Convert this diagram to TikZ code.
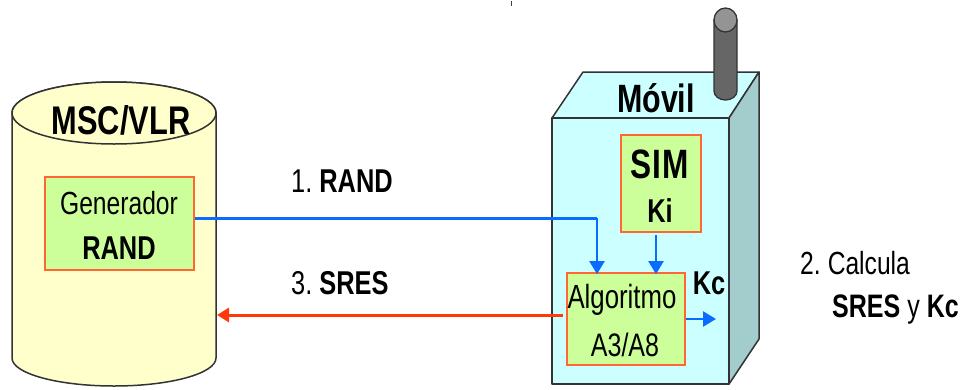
\documentclass[tikz,border=0pt]{standalone}
\usepackage{fontspec}
\setmainfont[FakeStretch=0.77]{Liberation Sans}
\definecolor{cylfill}{HTML}{FFFFCC}
\definecolor{boxgreen}{HTML}{CCFF99}
\definecolor{mobfront}{HTML}{CCFFFF}
\definecolor{mobside}{HTML}{A3CCCC}
\definecolor{edgeorange}{HTML}{FF6633}
\definecolor{linkblue}{HTML}{0A6CFF}
\definecolor{linkred}{HTML}{FF3A0A}
\definecolor{outline}{HTML}{333333}
\usetikzlibrary{arrows.meta}
\tikzset{
  solidpart/.style={draw=outline,line width=1.5pt,line join=round},
  panel/.style={draw=edgeorange,fill=boxgreen,line width=1.8pt,inner sep=0pt,align=center},
  bluelink/.style={draw=linkblue,line width=2.4pt,-{Triangle[width=15pt,length=13pt]}},
  bluemain/.style={draw=linkblue,line width=3pt},
  redlink/.style={draw=linkred,line width=3pt,-{Triangle[width=14pt,length=12pt]}},
  txt/.style={inner sep=0pt,align=center,text=black},
  lefttxt/.style={inner sep=0pt,anchor=west,text=black}
}
\newcommand{\fsz}[1]{\fontsize{#1}{#1}\selectfont}
\begin{document}
\begin{tikzpicture}[x=1pt,y=-1pt]
\useasboundingbox (0,0) rectangle (963,389);
% stray mark
\fill[black!75] (510.5,1) rectangle (512,6);
% cylinder
\path[solidpart,fill=cylfill] (12,113) -- (12,358) arc[start angle=180,end angle=0,x radius=102,y radius=28] -- (216,113) arc[start angle=0,end angle=-180,x radius=102,y radius=31] -- cycle;
\path[solidpart,fill=cylfill] (114,113) ellipse[x radius=102,y radius=31];
\node[txt,font=\bfseries\fsz{40}] (msc) at (121,120) {MSC/VLR};
\node[panel,minimum width=149pt,minimum height=93pt] (gen) at (119.5,223.5) {};
\node[txt,font=\fsz{32}] (gentxt) at (119,203) {Generador};
\node[txt,font=\bfseries\fsz{33}] (randtxt) at (119,248) {RAND};
% mobile
\path[solidpart,fill=mobfront] (552,118) -- (583,72) -- (759,72) -- (729,118) -- cycle;
\path[solidpart,fill=mobside] (729,118) -- (759,72) -- (759,339) -- (729,384) -- cycle;
\path[solidpart,fill=mobfront] (552,118) rectangle (729,384);
% antenna
\path[draw=outline,line width=1.3pt,fill=black!60] (714,20) -- (714,91) arc[start angle=180,end angle=0,x radius=11.5,y radius=9] -- (737,20) -- cycle;
\path[draw=outline,line width=1.3pt,fill=black!42] (725.5,20) ellipse[x radius=11.5,y radius=12];
\node[txt,font=\bfseries\fsz{39.5}] (mov) at (656,98) {Móvil};
\node[panel,minimum width=80pt,minimum height=97pt] (sim) at (661,183.5) {};
\node[txt,font=\bfseries\fsz{41}] (simtxt) at (660,164) {S\kern1pt I\kern1pt M};
\node[txt,font=\bfseries\fsz{33}] (ki) at (660,211) {Ki};
\node[panel,minimum width=118pt,minimum height=92pt] (alg) at (626,319) {};
\node[txt,font=\fsz{33.5}] (algt) at (622,300) {Algoritmo};
\node[txt,font=\fsz{32.5}] (a3) at (625,345) {A3/A8};
\node[txt,font=\bfseries\fsz{33}] (kc) at (709,283) {Kc};
% connectors
\coordinate (blueA) at (gen.east |- 0,218);
\coordinate (blueB) at (597,218);
\coordinate (blueC) at (alg.north -| blueB);
\coordinate (simout) at (656,235);
\coordinate (simin) at (alg.north -| simout);
\coordinate (redA) at (563,315);
\coordinate (redB) at (217,315);
\coordinate (kcA) at (alg.east |- 0,319);
\coordinate (kcB) at (716,319);
\draw[bluemain] (blueA) -- (blueB);
\draw[bluelink] (blueB) -- ([yshift=-2pt]blueC);
\draw[bluelink] (simout) -- ([yshift=-2pt]simin);
\draw[redlink] (redA) -- (redB);
\draw[bluelink] (kcA) -- (kcB);
% labels
\node[lefttxt,font=\fsz{33}] (l1) at (291,181) {1.\kern7pt\textbf{RAND}};
\node[lefttxt,font=\fsz{33}] (l3) at (291,283) {3.\kern7pt\textbf{SRES}};
\node[lefttxt,font=\fsz{32}] (l2) at (800,263) {2.\kern7pt Calcula};
\node[lefttxt,font=\fsz{32.5}] (l2b) at (832,310) {\textbf{SRES} y \textbf{Kc}};
\end{tikzpicture}
\end{document}
